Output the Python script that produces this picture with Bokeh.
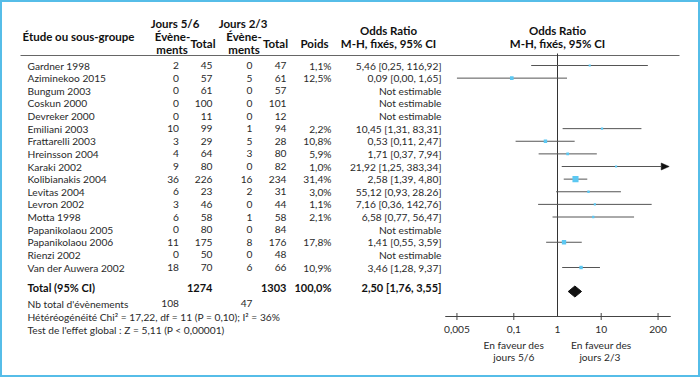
from bokeh.plotting import figure
from bokeh.models import Range1d, LogScale, ColumnDataSource
from bokeh.core.properties import value
from bokeh.embed import file_html
from bokeh.resources import INLINE

# ---------------- data ----------------
studies = ["Gardner 1998", "Aziminekoo 2015", "Bungum 2003", "Coskun 2000", "Devreker 2000",
           "Emiliani 2003", "Frattarelli 2003", "Hreinsson 2004", "Karaki 2002", "Kolibianakis 2004",
           "Levitas 2004", "Levron 2002", "Motta 1998", "Papanikolaou 2005", "Papanikolaou 2006",
           "Rienzi 2002", "Van der Auwera 2002"]
ev_56 = [2, 0, 0, 0, 0, 10, 3, 4, 9, 36, 6, 3, 6, 0, 11, 0, 18]
tot_56 = [45, 57, 61, 100, 11, 99, 29, 64, 80, 226, 23, 46, 58, 80, 175, 50, 70]
ev_23 = [0, 5, 0, 0, 0, 1, 5, 3, 0, 16, 2, 0, 1, 0, 8, 0, 6]
tot_23 = [47, 61, 57, 101, 12, 94, 28, 80, 82, 234, 31, 44, 58, 84, 176, 48, 66]
weights = ["1,1%", "12,5%", "", "", "", "2,2%", "10,8%", "5,9%", "1,0%", "31,4%",
           "3,0%", "1,1%", "2,1%", "", "17,8%", "", "10,9%"]
weight_vals = [1.1, 12.5, None, None, None, 2.2, 10.8, 5.9, 1.0, 31.4, 3.0, 1.1, 2.1, None, 17.8, None, 10.9]
or_vals = [5.46, 0.09, None, None, None, 10.45, 0.53, 1.71, 21.92, 2.58, 5.12, 7.16, 6.58, None, 1.41, None, 3.46]
or_lo = [0.25, 0.00, None, None, None, 1.31, 0.11, 0.37, 1.25, 1.39, 0.93, 0.36, 0.77, None, 0.55, None, 1.28]
or_hi = [116.92, 1.65, None, None, None, 83.31, 2.47, 7.94, 383.34, 4.80, 28.26, 142.76, 56.47, None, 3.59, None, 9.37]
or_text = ["5,46 [0,25, 116,92]", "0,09 [0,00, 1,65]", "Not estimable", "Not estimable", "Not estimable",
           "10,45 [1,31, 83,31]", "0,53 [0,11, 2,47]", "1,71 [0,37, 7,94]", "21,92 [1,25, 383,34]",
           "2,58 [1,39, 4,80]", "55,12 [0,93, 28.26]", "7,16 [0,36, 142,76]", "6,58 [0,77, 56,47]",
           "Not estimable", "1,41 [0,55, 3,59]", "Not estimable", "3,46 [1,28, 9,37]"]
total_56, total_23 = 1274, 1303
total_weight = "100,0%"
total_or, total_lo, total_hi = 2.50, 1.76, 3.55
total_or_text = "2,50 [1,76, 3,55]"
events_56, events_23 = 108, 47
tick_vals = [0.005, 0.1, 1, 10, 200]
tick_labels = ["0,005", "0,1", "1", "10", "200"]
axis_min, axis_max = 0.0027, 390
clip_lo, clip_hi, arrow_tip = 0.005, 200, 360

# ---------------- figure ----------------
W, H = 700, 377
X0, K = 557.0, 43.7   # pixel of OR=1 and pixels per decade
p = figure(width=W, height=H, x_range=Range1d(0, W), y_range=Range1d(H, 0),
           output_backend="svg", toolbar_location=None, x_axis_type=None, y_axis_type=None,
           min_border=0)
p.extra_x_ranges = {"or": Range1d(10 ** ((0 - X0) / K), 10 ** ((W - X0) / K))}
p.extra_x_scales = {"or": LogScale()}
p.outline_line_color = "#56bde8"
p.outline_line_width = 3
p.background_fill_color = "white"
p.border_fill_color = "white"

FONT = value("Lato")
TXT = "#2a2a2a"
BODY = "10.2px"


def txt(x, y, s, align="left", bold=False, size=BODY, color=TXT, xr=None):
    if not isinstance(s, list):
        x, y, s = [x], [y], [s]
    kw = {}
    if xr:
        kw["x_range_name"] = xr
    p.text(x=x, y=y, text=s, text_align=align, text_baseline="middle", text_font=FONT,
           text_font_size=value(size), text_font_style="bold" if bold else "normal",
           text_color=color, **kw)


# headers
HB = "11.5px"
HC = "#111111"
txt(22, 36, "Étude ou sous-groupe", bold=True, size=HB, color=HC)
txt(174.5, 22.5, "Jours 5/6", align="center", bold=True, size=HB, color=HC)
txt(172, 36, "Évène-", align="center", bold=True, size=HB, color=HC)
txt(171.5, 48.5, "ments", align="center", bold=True, size=HB, color=HC)
txt(202.5, 43, "Total", align="center", bold=True, size=HB, color=HC)
txt(242.5, 22.5, "Jours 2/3", align="center", bold=True, size=HB, color=HC)
txt(243.5, 36, "Évène-", align="center", bold=True, size=HB, color=HC)
txt(243.5, 48.5, "ments", align="center", bold=True, size=HB, color=HC)
txt(275, 43, "Total", align="center", bold=True, size=HB, color=HC)
txt(314, 43, "Poids", align="center", bold=True, size=HB, color=HC)
txt(388, 30, "Odds Ratio", align="center", bold=True, size=HB, color=HC)
txt(388, 43, "M-H, fixés, 95% CI", align="center", bold=True, size=HB, color=HC)
txt(1.0, 30, "Odds Ratio", align="center", bold=True, size=HB, color=HC, xr="or")
txt(1.0, 43, "M-H, fixés, 95% CI", align="center", bold=True, size=HB, color=HC, xr="or")
p.segment(x0=[20], x1=[679], y0=[55], y1=[55], line_color="#666666", line_width=1)

# rows
n = len(studies)
row_y = [65 + i * 12.625 for i in range(n)]
txt([27] * n, row_y, studies)
txt([178.5] * n, row_y, [str(v) for v in ev_56], align="right")
txt([212] * n, row_y, [str(v) for v in tot_56], align="right")
txt([252] * n, row_y, [str(v) for v in ev_23], align="right")
txt([286] * n, row_y, [str(v) for v in tot_23], align="right")
txt([331] * n, row_y, weights, align="right")
txt([441] * n, row_y, or_text, align="right")

# forest
p.segment(x0=[1], x1=[1], y0=[53], y1=[316], line_color="#333333", line_width=1, x_range_name="or")

seg = dict(x0=[], x1=[], y=[])
pts = dict(x=[], y=[], size=[])
head_step = 10 ** (8 / K)  # arrow head length in log units
for i in range(n):
    if or_vals[i] is None:
        continue
    lo = max(or_lo[i], clip_lo)
    y = row_y[i]
    seg["x0"].append(lo)
    seg["y"].append(y)
    if or_hi[i] > clip_hi:
        back = arrow_tip / head_step
        seg["x1"].append(back)
        p.patch(x=[back, arrow_tip, back], y=[y - 3.5, y, y + 3.5], fill_color="#111111",
                line_color="#111111", line_width=0.5, x_range_name="or")
    else:
        seg["x1"].append(or_hi[i])
    pts["x"].append(or_vals[i])
    pts["y"].append(y)
    pts["size"].append(2.0 + 0.13 * weight_vals[i])

p.segment(x0="x0", x1="x1", y0="y", y1="y", source=ColumnDataSource(seg),
          line_color="#555555", line_width=1, x_range_name="or")
p.scatter(x="x", y="y", size="size", marker="square", source=ColumnDataSource(pts),
          fill_color="#5cc8f2", line_color=None, x_range_name="or")

# total
TY = 287
TB = "11px"
txt(27, TY, "Total (95% CI)", bold=True, size=TB, color=HC)
txt(212, TY, str(total_56), align="right", bold=True, size=TB, color=HC)
txt(286, TY, str(total_23), align="right", bold=True, size=TB, color=HC)
txt(331, TY, total_weight, align="right", bold=True, size=TB, color=HC)
txt(441, TY, total_or_text, align="right", bold=True, size=TB, color=HC)
DY = TY + 4
p.patch(x=[total_lo, total_or, total_hi, total_or], y=[DY, DY - 5.5, DY, DY + 5.5],
        fill_color="#111111", line_color="#111111", x_range_name="or")

# footnotes
txt(27, 303, "Nb total d'évènements")
txt(178.5, 303, str(events_56), align="right")
txt(252, 303, str(events_23), align="right")
txt(27, 316, "Hétéréogénéité Chi² = 17,22, df = 11 (P = 0,10); I² = 36%")
txt(27, 329, "Test de l'effet global : Z = 5,11 (P < 0,00001)")

# axis
AY = 316
p.segment(x0=[axis_min], x1=[axis_max], y0=[AY], y1=[AY], line_color="#444444", line_width=1,
          x_range_name="or")
tk = [t for t in tick_vals if t != 1]
p.segment(x0=tk, x1=tk, y0=[AY - 3.5] * len(tk), y1=[AY + 3.5] * len(tk), line_color="#444444",
          line_width=1, x_range_name="or")
txt(tick_vals, [328.5] * len(tick_vals), tick_labels, align="center", xr="or")
txt([0.1, 0.1], [344, 356], ["En faveur des", "jours 5/6"], align="center", xr="or")
txt([10, 10], [344, 356], ["En faveur des", "jours  2/3"], align="center", xr="or")

open("out.html", "w").write(file_html(p, INLINE))
